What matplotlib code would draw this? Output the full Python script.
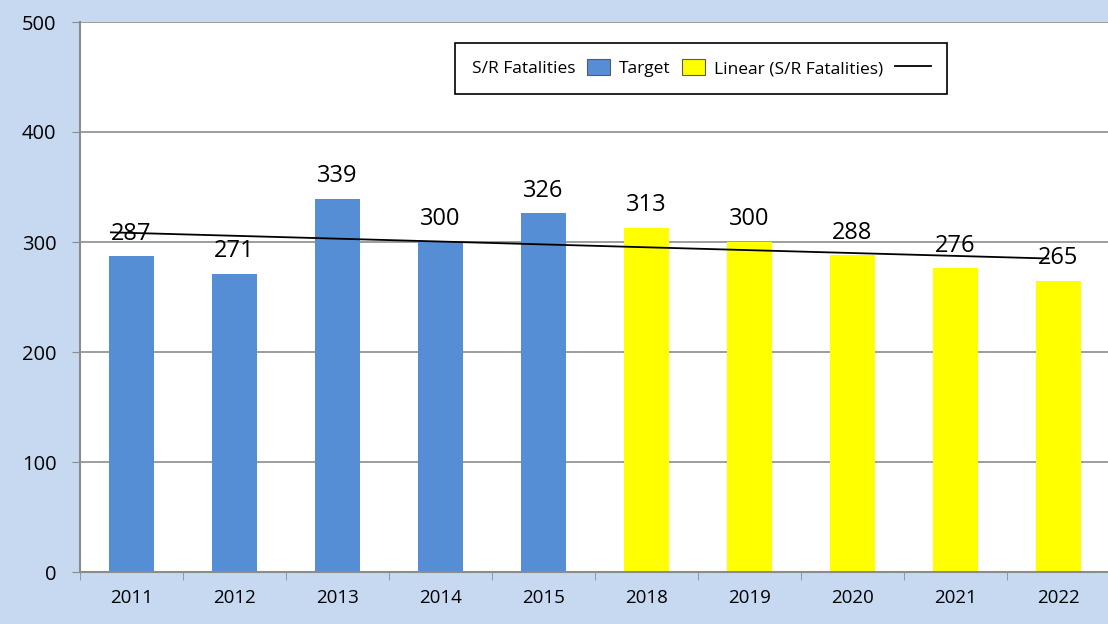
import numpy as np
import matplotlib.pyplot as plt
from matplotlib.patches import Rectangle
from matplotlib.legend_handler import HandlerPatch

years = ["2011", "2012", "2013", "2014", "2015", "2018", "2019", "2020", "2021", "2022"]
actual = [287, 271, 339, 300, 326]
target = [313, 300, 288, 276, 265]
values = actual + target

plt.rcParams['font.family'] = ['Open Sans', 'DejaVu Sans']

fig = plt.figure(figsize=(11.08, 6.24), dpi=100)
fig.patch.set_facecolor('#C6D9F1')
ax = fig.add_axes([80/1108, 52/624, 1030/1108, 550/624])
ax.set_facecolor('white')

x = np.arange(len(years))
n = len(actual)
b1 = ax.bar(x[:n], actual, width=0.43, color='#558ED5', zorder=2)
b2 = ax.bar(x[n:], target, width=0.43, color='#FFFF00', zorder=2)

# linear trend of all values
k, b = np.polyfit(x, values, 1)
tx = np.array([-0.2, 8.9])
trend, = ax.plot(tx, k*tx + b, color='black', lw=1.3, zorder=4)

for xi, v in zip(x, values):
    ax.annotate(str(v), (xi, v), xytext=(0, 12), textcoords='offset points',
                ha='center', va='baseline', fontsize=17, zorder=3)

ax.set_ylim(0, 500)
ax.set_xlim(-0.5, len(years) - 0.5)
ax.set_yticks(range(0, 501, 100))
ax.yaxis.grid(True, color='#8C8C8C', lw=1.2, zorder=0)
ax.set_axisbelow(True)
ax.tick_params(axis='y', length=6, color='#8C8C8C', labelsize=14.5, pad=11)

ax.set_xticks(x)
ax.set_xticklabels(years)
ax.set_xticks(np.arange(-0.5, len(years), 1), minor=True)
ax.tick_params(axis='x', which='major', length=0, labelsize=13.5, pad=12)
ax.tick_params(axis='x', which='minor', length=6, color='#8C8C8C')

for s in ['top', 'right']:
    ax.spines[s].set_visible(False)
for s in ['left', 'bottom']:
    ax.spines[s].set_color('#8C8C8C')
    ax.spines[s].set_linewidth(1.5)


# legend swatches are narrower than the line sample
class SmallPatch(HandlerPatch):
    def create_artists(self, legend, orig_handle, xdescent, ydescent, width, height, fontsize, trans):
        r = Rectangle((-xdescent, -ydescent), width * 0.64, height,
                      facecolor=orig_handle.get_facecolor(), edgecolor='#5A5A5A',
                      lw=0.8, transform=trans)
        return [r]


leg = ax.legend([b1[0], b2[0], trend], ['S/R Fatalities', 'Target', 'Linear (S/R Fatalities)'],
                handler_map={Rectangle: SmallPatch()},
                loc='upper right', bbox_to_anchor=(0.842, 0.962), borderaxespad=0, ncol=3,
                markerfirst=False, fontsize=12.5, frameon=True, fancybox=False,
                edgecolor='black', framealpha=1, handlelength=2.07, handleheight=1.04,
                columnspacing=-0.2, handletextpad=0.65, borderpad=0.95)
leg.get_frame().set_linewidth(1.2)

fig.savefig('out.png', dpi=100, facecolor=fig.get_facecolor())
